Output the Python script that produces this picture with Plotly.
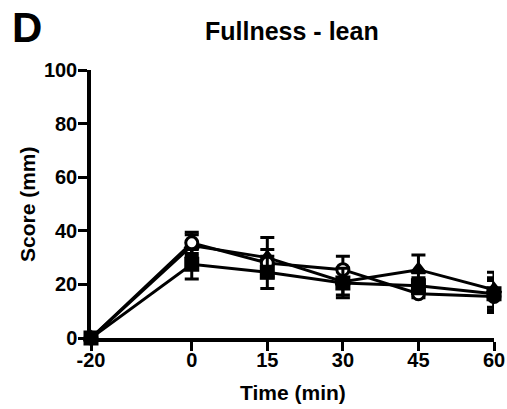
import plotly.graph_objects as go

time_min = [-20, 0, 15, 30, 45, 60]
tick_labels = ["-20", "0", "15", "30", "45", "60"]
y_ticks = [0, 20, 40, 60, 80, 100]

tri_mean = [0, 34.5, 30.0, 21.0, 25.5, 18.0]
tri_sem = [0, 4.0, 7.5, 5.0, 5.5, 6.5]

circ_mean = [0, 35.5, 28.0, 25.5, 16.5, 15.5]
circ_sem = [0, 4.0, 5.0, 5.0, 1.5, 6.0]

sq_mean = [0, 27.5, 24.5, 20.5, 19.5, 16.5]
sq_sem = [0, 5.5, 6.0, 5.5, 3.0, 6.0]

FONT = "Liberation Sans, Arial, sans-serif"
W, H = 507, 409
# plot-area edges in window pixels
X0, X1, Y0, Y1 = 91, 494, 70, 338
L, R, T, B = X0, W - X1, Y0, H - Y1

fig = go.Figure()

def add(y, err, symbol, fill):
    fig.add_trace(go.Scatter(
        x=time_min, y=y, mode="lines+markers",
        line=dict(color="black", width=3),
        marker=dict(symbol=symbol, size=12, color=fill,
                    line=dict(color="black", width=3)),
        error_y=dict(type="data", array=err, visible=True,
                     color="black", thickness=3, width=7),
        cliponaxis=False, showlegend=False,
    ))

add(tri_mean, tri_sem, "triangle-up", "black")
add(circ_mean, circ_sem, "circle", "white")
add(sq_mean, sq_sem, "square", "black")

axis_common = dict(
    showline=True, linecolor="black", linewidth=3.5,
    ticks="outside", ticklen=9, tickwidth=3, tickcolor="black",
    showgrid=False, zeroline=False, automargin=False,
    tickfont=dict(family=FONT, size=20, color="black", weight="bold"),
)

pw, ph = X1 - X0, Y1 - Y0

def px_x(x):
    return (x - X0) / pw

def px_y(y):
    return (Y1 - y) / ph

fig.update_layout(
    width=W, height=H,
    margin=dict(l=L, r=R, t=T, b=B, autoexpand=False),
    paper_bgcolor="white", plot_bgcolor="white",
    xaxis=dict(range=[-20, 60], tickvals=time_min, ticktext=tick_labels,
               ticklabelstandoff=-8, **axis_common),
    yaxis=dict(range=[0, 100], tickvals=y_ticks, ticklabelstandoff=-3,
               **axis_common),
)

def label(text, x, y, size, angle=0, xanchor="center"):
    fig.add_annotation(text=f"<b>{text}</b>", xref="paper", yref="paper",
                       x=px_x(x), y=px_y(y), xanchor=xanchor, yanchor="middle",
                       showarrow=False, textangle=angle,
                       font=dict(family=FONT, size=size, color="black"))

label("D", 10, 27, 42, xanchor="left")
label("Fullness - lean", 292, 31, 25)
label("Time (min)", 293, 392, 21)
label("Score (mm)", 27, 204, 21, angle=-90)

fig.write_html(
    "out.html",
    config={"displayModeBar": False},
    post_script="document.body.style.margin='0px';document.body.style.overflow='hidden';",
)
